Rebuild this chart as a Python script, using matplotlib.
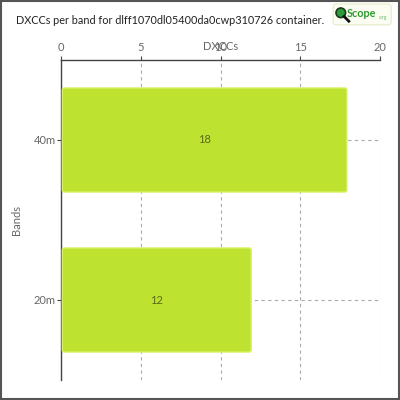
import matplotlib
matplotlib.use("Agg")
import matplotlib.pyplot as plt
from matplotlib.patches import FancyBboxPatch, Rectangle, Circle
from matplotlib.lines import Line2D

bands = ["20m", "40m"]
dxccs = [12, 18]
xticks = [0, 5, 10, 15, 20]
title = "DXCCs per band for dlff1070dl05400da0cwp310726 container."

plt.rcParams['font.family'] = ['Lato', 'DejaVu Sans']

fig = plt.figure(figsize=(4, 4), dpi=100)
fig.patch.set_facecolor("white")
fig.patches.append(Rectangle((0.002, 0.002), 0.996, 0.996, transform=fig.transFigure,
                             fill=False, edgecolor="#555555", linewidth=1.5))

ax = fig.add_axes([0.1525, 0.05, 0.7975, 0.80])
ax.set_xlim(0, 20)
ax.set_ylim(-0.5, 1.5)

ypos = list(range(len(bands)))
bar_h = 0.65
for y, v in zip(ypos, dxccs):
    p = FancyBboxPatch((0.08, y - bar_h / 2), v - 0.16, bar_h,
                       boxstyle="round,pad=0,rounding_size=0.12",
                       mutation_aspect=0.12,
                       facecolor="#bde22f", edgecolor="#d6f060", linewidth=1.0, zorder=3)
    ax.add_patch(p)
    ax.text(v / 2, y, str(v), ha="center", va="center", fontsize=8, color="#5a6b1a", zorder=4)

ax.xaxis.tick_top()
ax.xaxis.set_label_position("top")
ax.set_xticks(xticks)
ax.set_xticklabels([str(t) for t in xticks], fontsize=8, color="#666666")
ax.set_yticks(ypos)
ax.set_yticklabels(bands, fontsize=8, color="#666666")
ax.tick_params(axis="x", length=3, color="#444444", pad=2)
ax.tick_params(axis="y", length=3, color="#444444", pad=1)
ax.set_xlabel("DXCCs", fontsize=8, color="#666666", labelpad=-6)
ax.set_ylabel("Bands", fontsize=8, color="#666666", labelpad=8)

ax.grid(True, linestyle=(0, (3, 3)), color="#aaaaaa", linewidth=0.8, zorder=0)
ax.set_axisbelow(True)
for s in ["right", "bottom"]:
    ax.spines[s].set_visible(False)
for s in ["left", "top"]:
    ax.spines[s].set_color("#444444")
    ax.spines[s].set_linewidth(1.0)

fig.text(0.04, 0.948, title, fontsize=7.8, color="#222222", ha="left", va="center")

# logo
fig.patches.append(FancyBboxPatch((0.833, 0.938), 0.145, 0.052, transform=fig.transFigure,
                                  boxstyle="round,pad=0,rounding_size=0.008",
                                  facecolor="#fbfdf3", edgecolor="#e2ecc8", linewidth=0.8))
fig.patches.append(Circle((0.852, 0.968), 0.012, transform=fig.transFigure,
                          facecolor="#2a9a3a", edgecolor="#1a3a1a", linewidth=1.2))
fig.lines.append(Line2D([0.860, 0.872], [0.959, 0.947], transform=fig.transFigure,
                        color="#111111", linewidth=2.0))
fig.text(0.866, 0.966, "Scope", fontsize=7.8, color="#2e9a2e", fontweight="bold", ha="left", va="center")
fig.text(0.947, 0.956, ".org", fontsize=3.5, color="#66bb66", ha="left", va="center")

fig.savefig("out.png", dpi=100, facecolor="white")
